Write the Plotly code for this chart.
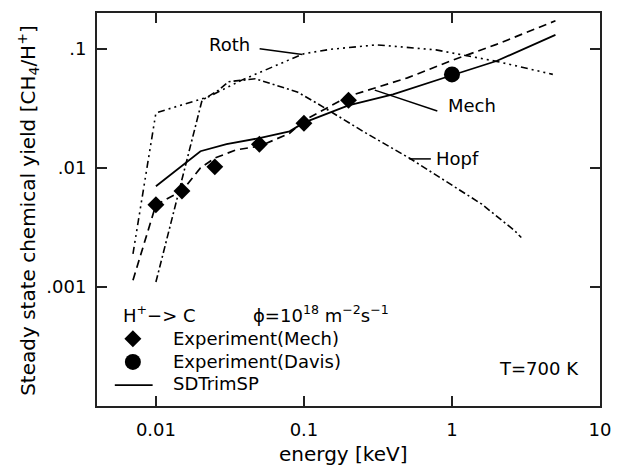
import numpy as np
import plotly.graph_objects as go

# Steady-state chemical erosion yield of carbon by H+ at 700 K

# Experimental points (Mech)
mech_exp_energy = [0.01, 0.015, 0.025, 0.05, 0.1, 0.2]
mech_exp_yield = [0.0049, 0.0064, 0.0102, 0.0158, 0.0237, 0.037]

# Experimental point (Davis)
davis_energy = [1.0]
davis_yield = [0.061]

# SDTrimSP simulation
sdtrim_energy = [0.01, 0.02, 0.03, 0.05, 0.08, 0.1, 0.2, 0.4, 1.0, 2.0, 5.0]
sdtrim_yield = [0.0070, 0.0138, 0.0158, 0.0178, 0.0203, 0.024, 0.0335, 0.0415, 0.060, 0.079, 0.131]

# Mech fit
mech_fit_energy = [0.007, 0.01, 0.015, 0.02, 0.025, 0.035, 0.05, 0.08, 0.1, 0.2, 0.5, 1.0, 2.0, 5.0]
mech_fit_yield = [0.00114, 0.0049, 0.0064, 0.0100, 0.0121, 0.0142, 0.0152, 0.0195, 0.025,
                  0.040, 0.057, 0.080, 0.109, 0.172]

# Roth model
roth_energy = [0.007, 0.01, 0.0227, 0.038, 0.078, 0.1, 0.15, 0.31, 0.78, 1.23, 2.05, 4.8]
roth_yield = [0.0019, 0.029, 0.0396, 0.0546, 0.080, 0.091, 0.099, 0.108, 0.098, 0.088, 0.078, 0.061]

# Hopf model
hopf_energy = [0.01, 0.0205, 0.0265, 0.031, 0.047, 0.09, 0.123, 0.151, 0.252, 0.515,
               0.906, 1.59, 2.65, 2.94]
hopf_yield = [0.0011, 0.037, 0.045, 0.053, 0.056, 0.0435, 0.0348, 0.0297, 0.0202, 0.0121,
              0.00774, 0.00496, 0.00297, 0.0026]

x_tick_vals = [0.01, 0.1, 1, 10]
x_tick_text = ["0.01", "0.1", "1", "10"]
y_tick_vals = [0.001, 0.01, 0.1]
y_tick_text = [".001", ".01", ".1"]

FONT = "DejaVu Sans"
FS = 18
TITLE_FS = 20
INK = "black"

fig = go.Figure()

fig.add_trace(go.Scatter(x=roth_energy, y=roth_yield, mode="lines",
                         line=dict(color=INK, width=1.6,
                                   dash="7px,4px,2px,4px,2px,4px,2px,4px"),
                         showlegend=False, hoverinfo="skip"))
fig.add_trace(go.Scatter(x=hopf_energy, y=hopf_yield, mode="lines",
                         line=dict(color=INK, width=1.6, dash="7px,3px,2px,3px"),
                         showlegend=False, hoverinfo="skip"))
fig.add_trace(go.Scatter(x=mech_fit_energy, y=mech_fit_yield, mode="lines",
                         line=dict(color=INK, width=1.7, dash="8px,5px"),
                         showlegend=False, hoverinfo="skip"))
fig.add_trace(go.Scatter(x=sdtrim_energy, y=sdtrim_yield, mode="lines",
                         line=dict(color=INK, width=1.8),
                         name="SDTrimSP", showlegend=False))
fig.add_trace(go.Scatter(x=mech_exp_energy, y=mech_exp_yield, mode="markers",
                         marker=dict(symbol="diamond", size=13, color=INK),
                         name="Experiment(Mech)", showlegend=False))
fig.add_trace(go.Scatter(x=davis_energy, y=davis_yield, mode="markers",
                         marker=dict(symbol="circle", size=16, color=INK),
                         name="Experiment(Davis)", showlegend=False))

annotations = []
shapes = []

def curve_label(text, e, y):
    annotations.append(dict(x=np.log10(e), y=np.log10(y), xref="x", yref="y",
                            text=text, showarrow=False, xanchor="left",
                            yanchor="middle", font=dict(family=FONT, size=FS, color=INK)))

def pointer(e0, y0, e1, y1):
    shapes.append(dict(type="line", xref="x", yref="y", x0=e0, y0=y0, x1=e1, y1=y1,
                       line=dict(color=INK, width=1.5)))

# curve labels with leader lines
curve_label("Roth", 0.022, 0.108)
pointer(0.0502, 0.1, 0.0977, 0.0898)
curve_label("Mech", 0.905, 0.0333)
pointer(0.301, 0.045, 0.796, 0.0301)
curve_label("Hopf", 0.757, 0.0121)
pointer(0.515, 0.0119, 0.72, 0.0119)

def paper_text(text, x, y, xanchor="left", size=FS, **kw):
    annotations.append(dict(x=x, y=y, xref="paper", yref="paper", text=text,
                            showarrow=False, xanchor=xanchor, yanchor="middle",
                            font=dict(family=FONT, size=size, color=INK), **kw))

# key block
paper_text("H<sup>+</sup>−> C", 0.0485, 0.2347)
paper_text("ϕ=10<sup>18</sup> m<sup>−2</sup>s<sup>−1</sup>", 0.3071, 0.2347)
paper_text("Experiment(Mech)", 0.1468, 0.1714)
paper_text("Experiment(Davis)", 0.1468, 0.1122)
paper_text("SDTrimSP", 0.1468, 0.0582)
paper_text("T=700 K", 0.878, 0.0954, xanchor="center")

shapes.append(dict(type="path", xref="paper", yref="paper", xsizemode="pixel",
                   ysizemode="pixel", xanchor=0.0713, yanchor=0.1714,
                   path="M0,8.5 L8.5,0 L0,-8.5 L-8.5,0 Z",
                   fillcolor=INK, line=dict(width=0)))
shapes.append(dict(type="circle", xref="paper", yref="paper", xsizemode="pixel",
                   ysizemode="pixel", xanchor=0.0713, yanchor=0.1122,
                   x0=-8, x1=8, y0=-8, y1=8, fillcolor=INK, line=dict(width=0)))
shapes.append(dict(type="line", xref="paper", yref="paper",
                   x0=0.0354, x1=0.1106, y0=0.0532, y1=0.0532,
                   line=dict(color=INK, width=1.8)))

# axis titles
paper_text("Steady state chemical yield [CH<sub>4</sub>/H<sup>+</sup>]", -0.1375, 0.4987,
           xanchor="center", size=TITLE_FS, textangle=-90)
paper_text("energy [keV]", 0.490, -0.1215, xanchor="center", size=TITLE_FS)

axis_common = dict(showline=True, linecolor="#222", linewidth=2, mirror="ticks",
                   ticks="inside", ticklen=10, tickwidth=1.5, tickcolor="#222",
                   showgrid=False, zeroline=False,
                   tickfont=dict(family=FONT, size=FS, color=INK))

fig.update_xaxes(type="log", range=[np.log10(0.004), 1], ticklabelstandoff=6,
                 tickvals=x_tick_vals, ticktext=x_tick_text, **axis_common)
fig.update_yaxes(type="log", range=[-4, np.log10(0.2)], ticklabelstandoff=5,
                 tickvals=y_tick_vals, ticktext=y_tick_text, **axis_common)

fig.update_layout(width=622, height=470, margin=dict(l=97, r=16, t=11, b=64),
                  paper_bgcolor="white", plot_bgcolor="white",
                  annotations=annotations, shapes=shapes, showlegend=False,
                  font=dict(family=FONT, size=FS, color=INK))

fig.write_html("out.html")
